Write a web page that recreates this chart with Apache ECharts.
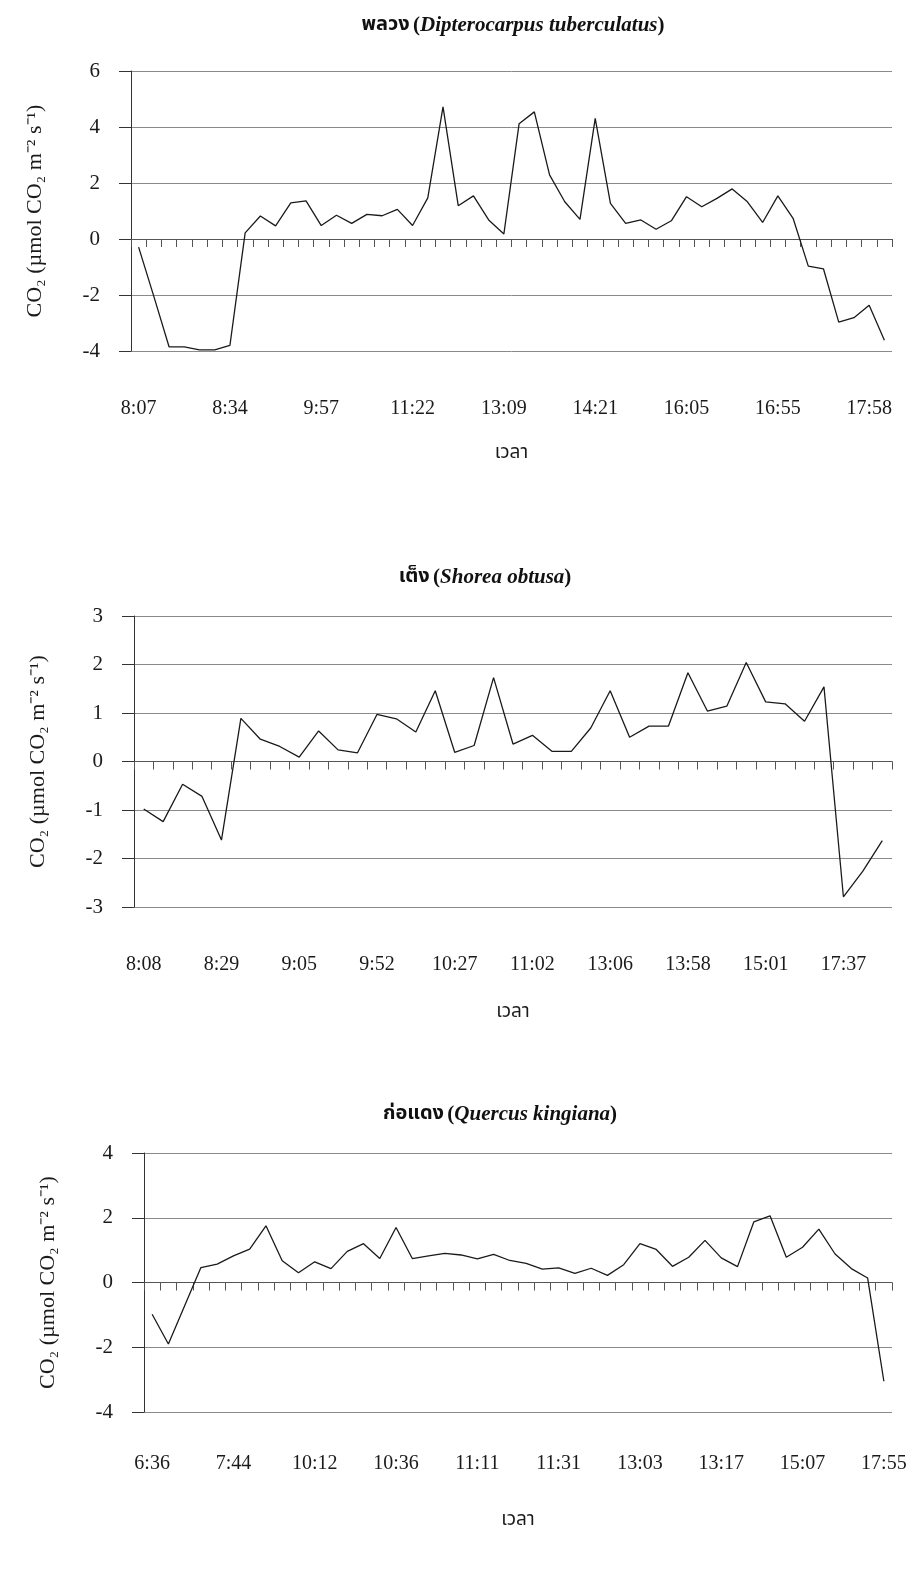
<!DOCTYPE html>
<html>
<head>
<meta charset="utf-8">
<script src="https://cdn.jsdelivr.net/npm/echarts@6/dist/echarts.min.js"></script>
<style>
html,body{margin:0;padding:0;background:#fff;}
#c{width:915px;height:1572px;}
</style>
</head>
<body>
<div id="c"></div>
<script>
// ---------- DATA ----------
const titles = ['พลวง', 'เต็ง', 'ก่อแดง'];
const sciNames = ['Dipterocarpus tuberculatus', 'Shorea obtusa', 'Quercus kingiana'];

const tickLabels1 = ['8:07','8:34','9:57','11:22','13:09','14:21','16:05','16:55','17:58'];
const values1 = [-0.29,-2.05,-3.85,-3.85,-3.96,-3.96,-3.8,0.22,0.82,0.47,1.29,1.36,0.48,0.85,0.56,0.88,0.83,1.06,0.48,1.47,4.72,1.19,1.54,0.68,0.18,4.12,4.54,2.29,1.33,0.7,4.31,1.27,0.56,0.68,0.35,0.65,1.51,1.15,1.45,1.79,1.33,0.59,1.54,0.74,-0.97,-1.07,-2.97,-2.81,-2.37,-3.62];
const labelStep1 = 6;

const tickLabels2 = ['8:08','8:29','9:05','9:52','10:27','11:02','13:06','13:58','15:01','17:37'];
const values2 = [-0.98,-1.24,-0.47,-0.72,-1.62,0.89,0.46,0.31,0.09,0.63,0.24,0.18,0.97,0.88,0.61,1.46,0.19,0.33,1.73,0.36,0.54,0.21,0.21,0.69,1.46,0.5,0.73,0.73,1.83,1.04,1.14,2.04,1.23,1.19,0.83,1.54,-2.79,-2.26,-1.63];
const labelStep2 = 4;

const tickLabels3 = ['6:36','7:44','10:12','10:36','11:11','11:31','13:03','13:17','15:07','17:55'];
const values3 = [-0.98,-1.9,-0.72,0.46,0.57,0.82,1.03,1.75,0.67,0.3,0.64,0.43,0.96,1.2,0.74,1.7,0.74,0.82,0.9,0.85,0.73,0.87,0.68,0.59,0.41,0.45,0.28,0.44,0.22,0.55,1.2,1.02,0.5,0.78,1.3,0.76,0.49,1.87,2.06,0.78,1.09,1.65,0.88,0.43,0.14,-3.05];
const labelStep3 = 5;

const yRanges = [[-4,6,2],[-3,3,1],[-4,4,2]];
const xName = 'เวลา';
const yName = 'CO₂ (µmol CO₂ m⁻² s⁻¹)';

// ---------- LAYOUT ----------
const grids = [
  {left:131, right:23, top:71, height:280},
  {left:134, right:23, top:616, height:291},
  {left:144, right:23, top:1153, height:259}
];
const titlePos = [[513,26],[485,578],[500,1115]];
const labelMargins = [48,48,42];
const xNameGaps = [94,97,100];

const SERIF = '"Liberation Serif","Times New Roman",serif';
const THAI = '"Noto Sans Thai","Noto Sans Thai Looped","Garuda","Loma","Norasi","Tlwg Typo","DejaVu Sans","Noto Sans",sans-serif';

const allValues = [values1, values2, values3];
const allTicks = [tickLabels1, tickLabels2, tickLabels3];
const allSteps = [labelStep1, labelStep2, labelStep3];

const xAxes = [], yAxes = [], series = [], graphics = [];
for (let g = 0; g < 3; g++) {
  const cats = allValues[g].map((_, i) => String(i));
  const ticks = allTicks[g], step = allSteps[g];
  // axis on zero: line + ticks
  xAxes.push({
    gridIndex: g, type: 'category', data: cats, position: 'bottom', boundaryGap: true,
    axisLine: {show: true, onZero: true, lineStyle: {color: '#555', width: 1}},
    axisTick: {show: true, interval: 0, length: 8, lineStyle: {color: '#555', width: 1}},
    axisLabel: {show: false}, splitLine: {show: false}
  });
  // bottom axis: labels + name
  xAxes.push({
    gridIndex: g, type: 'category', data: cats, position: 'bottom', boundaryGap: true,
    axisLine: {show: false, onZero: false}, axisTick: {show: false}, splitLine: {show: false},
    axisLabel: {
      show: true, interval: 0, margin: labelMargins[g], fontFamily: SERIF, fontSize: 20, color: '#1a1a1a',
      formatter: (v, i) => (i % step === 0 && ticks[i / step] !== undefined) ? ticks[i / step] : ''
    },
    name: xName, nameLocation: 'middle', nameGap: xNameGaps[g],
    nameTextStyle: {fontFamily: THAI, fontSize: 19, color: '#1a1a1a'}
  });
  const r = yRanges[g];
  yAxes.push({
    gridIndex: g, type: 'value', min: r[0], max: r[1], interval: r[2],
    axisLine: {show: true, lineStyle: {color: '#333', width: 1}},
    axisTick: {show: true, length: 12, lineStyle: {color: '#333', width: 1}},
    axisLabel: {margin: 31, fontFamily: SERIF, fontSize: 21, color: '#1a1a1a'},
    splitLine: {show: true, lineStyle: {color: '#8a8a8a', width: 1}},
    name: yName, nameLocation: 'middle', nameRotate: 90, nameGap: 85,
    nameTextStyle: {fontFamily: SERIF, fontSize: 22, color: '#1a1a1a'}
  });
  series.push({
    type: 'line', xAxisIndex: g * 2, yAxisIndex: g, data: allValues[g],
    symbol: 'none', smooth: false, animation: false,
    lineStyle: {color: '#1a1a1a', width: 1.3}
  });
  graphics.push({
    type: 'text', x: titlePos[g][0], y: titlePos[g][1],
    style: {
      text: '{th|' + titles[g] + '} {b|(}{bi|' + sciNames[g] + '}{b|)}',
      align: 'center', verticalAlign: 'middle',
      rich: {
        th: {fontFamily: THAI, fontSize: 20, fontWeight: 'bold', fill: '#111'},
        b: {fontFamily: SERIF, fontSize: 21, fontWeight: 'bold', fill: '#111'},
        bi: {fontFamily: SERIF, fontSize: 21, fontWeight: 'bold', fontStyle: 'italic', fill: '#111'}
      }
    }
  });
}

const chart = echarts.init(document.getElementById('c'), null, {renderer: 'canvas'});
chart.setOption({
  backgroundColor: '#ffffff',
  animation: false,
  grid: grids,
  xAxis: xAxes,
  yAxis: yAxes,
  series: series,
  graphic: graphics
});
</script>
</body>
</html>
